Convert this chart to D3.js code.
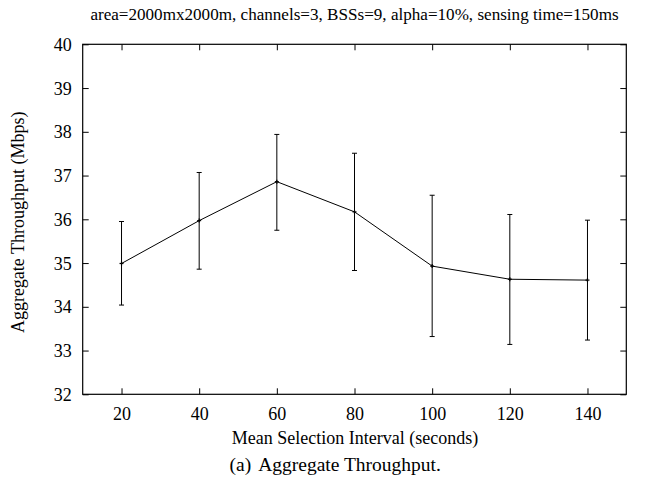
<!DOCTYPE html>
<html>
<head>
<meta charset="utf-8">
<script src="https://cdn.jsdelivr.net/npm/d3@7"></script>
<style>
  html, body { margin: 0; padding: 0; background: #fff; }
  svg { display: block; }
</style>
</head>
<body>
<svg id="chart" width="648" height="486"></svg>
<script>
// Mean selection interval (seconds)
const intervals = [20, 40, 60, 80, 100, 120, 140];
// Aggregate throughput (Mbps): mean and error-bar bounds
const throughput = [34.99, 35.97, 36.86, 36.17, 34.93, 34.63, 34.61];
const errLow     = [34.04, 34.86, 35.75, 34.83, 33.32, 33.14, 33.24];
const errHigh    = [35.95, 37.07, 37.94, 37.51, 36.55, 36.11, 35.98];

const xTicks = [20, 40, 60, 80, 100, 120, 140];
const yTicks = [32, 33, 34, 35, 36, 37, 38, 39, 40];

const titleText = "area=2000mx2000m, channels=3, BSSs=9, alpha=10%, sensing time=150ms";
const xLabel = "Mean Selection Interval (seconds)";
const yLabel = "Aggregate Throughput (Mbps)";
const captionTag = "(a)";
const captionText = "Aggregate Throughput.";

const FONT = "Liberation Serif";

const svg = d3.select("#chart");
const plotL = 82.7, plotR = 626.3, plotT = 44.3, plotB = 394.3;

const x = d3.scaleLinear().domain([10, 150]).range([plotL, plotR]);
const y = d3.scaleLinear().domain([32, 40]).range([plotB, plotT]);

const tickLen = 6;

// inward ticks on all four sides
const axes = [
  { g: d3.axisBottom(x).tickValues(xTicks).tickSizeInner(-tickLen).tickSizeOuter(0), t: `translate(0,${plotB})`, kind: "bottom" },
  { g: d3.axisTop(x).tickValues(xTicks).tickSizeInner(-tickLen).tickSizeOuter(0), t: `translate(0,${plotT})`, kind: "top" },
  { g: d3.axisLeft(y).tickValues(yTicks).tickSizeInner(-tickLen).tickSizeOuter(0), t: `translate(${plotL},0)`, kind: "left" },
  { g: d3.axisRight(y).tickValues(yTicks).tickSizeInner(-tickLen).tickSizeOuter(0), t: `translate(${plotR},0)`, kind: "right" }
];
axes.forEach(a => {
  const g = svg.append("g").attr("transform", a.t).call(a.g)
    .attr("font-family", FONT).attr("font-size", 18);
  g.select(".domain").remove();
  g.selectAll(".tick line").attr("stroke", "#000").attr("stroke-width", 1);
  const labels = g.selectAll(".tick text").attr("fill", "#000");
  if (a.kind === "top" || a.kind === "right") labels.remove();
  if (a.kind === "bottom") labels.attr("dy", "0").attr("y", 26);
  if (a.kind === "left") labels.attr("x", -11).attr("dy", "0.34em");
});

// frame
svg.append("rect")
  .attr("x", plotL).attr("y", plotT)
  .attr("width", plotR - plotL).attr("height", plotB - plotT)
  .attr("fill", "none").attr("stroke", "#000").attr("stroke-width", 1.2);

const data = intervals.map((v, i) => ({ x: v, y: throughput[i], lo: errLow[i], hi: errHigh[i] }));

// error bars
const eb = svg.append("g").attr("stroke", "#000").attr("stroke-width", 1);
const cap = 2.5;
data.forEach(d => {
  eb.append("line").attr("x1", x(d.x)).attr("x2", x(d.x)).attr("y1", y(d.lo)).attr("y2", y(d.hi));
  eb.append("line").attr("x1", x(d.x) - cap).attr("x2", x(d.x) + cap).attr("y1", y(d.lo)).attr("y2", y(d.lo));
  eb.append("line").attr("x1", x(d.x) - cap).attr("x2", x(d.x) + cap).attr("y1", y(d.hi)).attr("y2", y(d.hi));
});

// mean line
svg.append("path")
  .datum(data)
  .attr("fill", "none").attr("stroke", "#000").attr("stroke-width", 1)
  .attr("d", d3.line().x(d => x(d.x)).y(d => y(d.y)));

// point markers (+)
const pm = svg.append("g").attr("stroke", "#000").attr("stroke-width", 1.2);
data.forEach(d => {
  pm.append("line").attr("x1", x(d.x) - 2).attr("x2", x(d.x) + 2).attr("y1", y(d.y)).attr("y2", y(d.y));
  pm.append("line").attr("x1", x(d.x)).attr("x2", x(d.x)).attr("y1", y(d.y) - 2).attr("y2", y(d.y) + 2);
});

// titles and labels
const txt = svg.append("g").attr("font-family", FONT).attr("fill", "#000");
txt.append("text").attr("x", 354.5).attr("y", 20).attr("text-anchor", "middle")
  .attr("font-size", 17.1).text(titleText);
txt.append("text").attr("x", 355).attr("y", 444).attr("text-anchor", "middle")
  .attr("font-size", 18).text(xLabel);
txt.append("text").attr("transform", `translate(24,${(plotT + plotB) / 2 + 3}) rotate(-90)`)
  .attr("text-anchor", "middle").attr("font-size", 18).text(yLabel);

// caption: tag followed by a wider gap, then the caption text
const capText = txt.append("text").attr("x", 229.5).attr("y", 471).attr("font-size", 19.5);
capText.append("tspan").text(captionTag);
capText.append("tspan").attr("dx", 7).text(captionText);
</script>
</body>
</html>
